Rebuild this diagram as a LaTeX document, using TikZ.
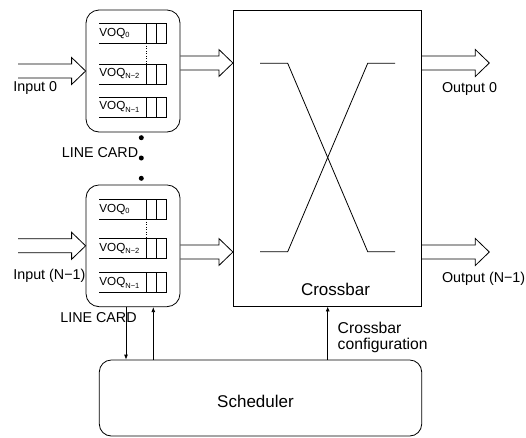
\documentclass[tikz,border=0pt]{standalone}
\usepackage{fontspec}
\setmainfont{Liberation Sans}
\usetikzlibrary{arrows.meta,calc}
\newcommand\fatarrow[2]{\draw let \p1=#1, \p2=#2 in (\x1,\y2+7pt) -- (\x2-14pt,\y2+7pt) -- (\x2-14pt,\y2+13.5pt) -- (\x2,\y2) -- (\x2-14pt,\y2-13.5pt) -- (\x2-14pt,\y2-7pt) -- (\x1,\y2-7pt);}
\newcommand\voqrow[3]{%
  \draw (99,#1) -- (166.7,#1) (99,#1+20) -- (166.7,#1+20);
  \draw (146,#1) -- (146,#1+20) (156.4,#1) -- (156.4,#1+20) (166.7,#1) -- (166.7,#1+20);
  \node[voqtext] at (99,#1+10) {VOQ\raisebox{#3}{\fontsize{7.5}{8}\selectfont #2}};
}
\begin{document}
\begin{tikzpicture}[x=1pt,y=-1pt, line width=0.8pt,
  card/.style={draw, rounded corners=13pt, minimum width=94pt, minimum height=122pt, inner sep=0},
  lbl/.style={inner sep=0, font=\fontsize{14.3}{16}\selectfont},
  big/.style={inner sep=0, font=\fontsize{17}{19}\selectfont},
  voqtext/.style={anchor=west, inner sep=0, font=\fontsize{11.7}{13}\selectfont},
  ctl/.style={-{Latex[length=5pt,width=4pt]}},
  dotn/.style={circle, fill, inner sep=0, minimum size=5pt}]
\useasboundingbox (0,0) rectangle (526,437);
% main blocks
\node[card] (lc1) at (133,71) {};
\node[card, minimum height=121.7pt] (lc2) at (133,245.8) {};
\node[draw, minimum width=188.4pt, minimum height=296pt, inner sep=0] (xbar) at (327.5,158) {};
\node[draw, rounded corners=12pt, minimum width=322.4pt, minimum height=76pt, inner sep=0] (sched) at (260.5,398) {};
% VOQ rows
\voqrow{23.3}{0}{-1.5pt}
\voqrow{64}{N−2}{-2pt}
\voqrow{97}{N−1}{-3.5pt}
\voqrow{199.3}{0}{-1.5pt}
\voqrow{238.3}{N−2}{-2pt}
\voqrow{272.7}{N−1}{-3.5pt}
\draw[dotted, line width=0.5pt] (146,43.3) -- (146,64);
\draw[dotted, line width=0.5pt] (146,219.3) -- (146,238.3);
% dots between line cards
\node[dotn] (d1) at (141.3,137.7) {};
\node[dotn] (d2) at (141.3,158) {};
\node[dotn] (d3) at (141.3,178.3) {};
% crossbar X
\draw (260,63.3) -- (287.7,63.3) -- (367.7,251.7) -- (395,251.7);
\draw (260,251.7) -- (287.7,251.7) -- (367.7,63.3) -- (395,63.3);
% hollow arrows
\coordinate (in1) at (18,71);
\coordinate (in2) at (18,245.8);
\coordinate (r1) at (0,63);
\coordinate (r2) at (0,252);
\coordinate (o1) at (489.3,63);
\coordinate (o2) at (489.3,252);
\fatarrow{(in1)}{(lc1.west)}
\fatarrow{(in2)}{(lc2.west)}
\fatarrow{(lc1.east)}{(xbar.west |- r1)}
\fatarrow{(lc2.east)}{(xbar.west |- r2)}
\fatarrow{(xbar.east)}{(o1)}
\fatarrow{(xbar.east)}{(o2)}
% control arrows
\coordinate (cd) at (126,0);
\coordinate (cu) at (153.3,0);
\coordinate (cc) at (327.7,0);
\draw[ctl] (cd |- lc2.south) -- (cd |- sched.north);
\draw[ctl] (cu |- sched.north) -- (cu |- lc2.south);
\draw[ctl] (cc |- sched.north) -- (cc |- xbar.south);
% labels
\node[lbl, anchor=base west] (t1) at (13,91.7) {Input 0};
\node[lbl, anchor=base west] (t2) at (13,279) {Input (N−1)};
\node[lbl, anchor=base west] (t3) at (441.7,92.7) {Output 0};
\node[lbl, anchor=base west] (t4) at (441.7,282) {Output (N−1)};
\node[lbl, anchor=base] (t5) at (100,157) {LINE CARD};
\node[lbl, anchor=base] (t6) at (98.5,322) {LINE CARD};
\node[big, anchor=base] (t7) at (335.5,295) {Crossbar};
\node[big, anchor=base] (t8) at (255.5,407) {Scheduler};
\node[inner sep=0, anchor=base west, align=left, font=\fontsize{15.7}{16}\selectfont] (t9) at (337.3,349.3) {Crossbar\\configuration};
\end{tikzpicture}
\end{document}
